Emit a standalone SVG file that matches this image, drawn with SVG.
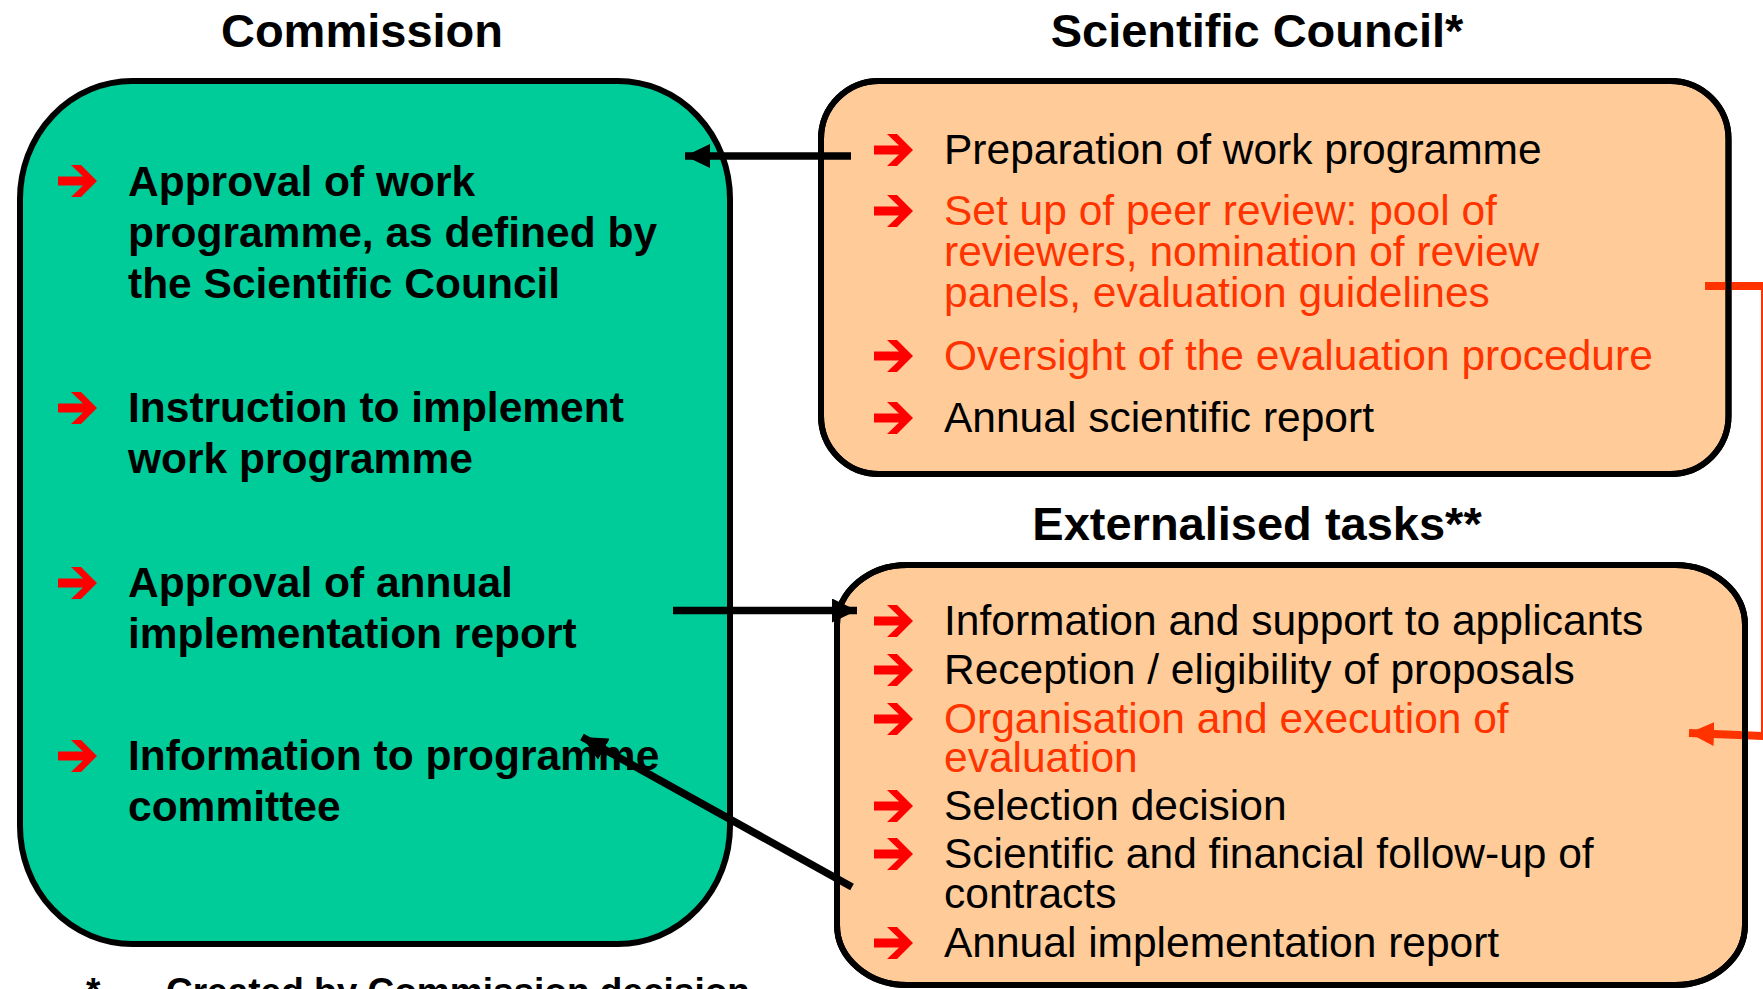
<svg xmlns="http://www.w3.org/2000/svg" xmlns:xlink="http://www.w3.org/1999/xlink" width="1763" height="989" viewBox="0 0 1763 989">
  <style>
    text { font-family: "Liberation Sans", Arial, Helvetica, sans-serif; }
    .title { font-size: 47px; font-weight: bold; fill: #000; text-anchor: middle; }
    .gtext { font-size: 42.5px; font-weight: bold; fill: #000; }
    .otext { font-size: 42.5px; fill: #000; }
    .red { fill: #FF3300; }
    .foot { font-size: 37px; font-weight: bold; fill: #000; }
    .box-green { fill: #00CC99; stroke: #000; stroke-width: 6; }
    .box-peach { fill: #FFCC99; stroke: #000; stroke-width: 6; }
    .outline { fill: none; stroke: #000; stroke-width: 6; }
    .conn { fill: none; stroke: #000; stroke-width: 7.5; }
    .conn-red { fill: none; stroke: #FF3300; stroke-width: 8; }
  </style>
  <defs>
    <path id="bullet" d="M0,-4.5 H25 L13,-16 H23 L39,0 L23,16 H13 L25,4.5 H0 Z" fill="#FF0000"/>
    <marker id="ah-black" markerUnits="userSpaceOnUse" markerWidth="26" markerHeight="24" refX="25" refY="12" orient="auto">
      <path d="M0,0 L25,12 L0,24 Z" fill="#000"/>
    </marker>
    <marker id="ah-red" markerUnits="userSpaceOnUse" markerWidth="26" markerHeight="24" refX="25" refY="12" orient="auto">
      <path d="M0,0 L25,12 L0,24 Z" fill="#FF3300"/>
    </marker>
  </defs>

  <rect x="0" y="0" width="1763" height="989" fill="#FFFFFF"/>

  <!-- Titles -->
  <text class="title" x="362" y="47">Commission</text>
  <text class="title" x="1257" y="47">Scientific Council*</text>
  <text class="title" x="1257" y="540">Externalised tasks**</text>

  <!-- Commission node -->
  <g id="commission">
    <rect class="box-green" x="20" y="81" width="710" height="863" rx="112" ry="118"/>
    <use href="#bullet" x="58" y="181"/>
    <text class="gtext" x="128" y="196">Approval of work</text>
    <text class="gtext" x="128" y="247">programme, as defined by</text>
    <text class="gtext" x="128" y="298">the Scientific Council</text>
    <use href="#bullet" x="58" y="408"/>
    <text class="gtext" x="128" y="422">Instruction to implement</text>
    <text class="gtext" x="128" y="473">work programme</text>
    <use href="#bullet" x="58" y="583"/>
    <text class="gtext" x="128" y="597">Approval of annual</text>
    <text class="gtext" x="128" y="648">implementation report</text>
    <use href="#bullet" x="58" y="756"/>
    <text class="gtext" x="128" y="770">Information to programme</text>
    <text class="gtext" x="128" y="821">committee</text>
  </g>

  <!-- Scientific Council node -->
  <g id="scientific-council">
    <rect class="box-peach" x="821" y="81" width="907.5" height="393" rx="58" ry="58"/>
    <use href="#bullet" x="874" y="150"/>
    <text class="otext" x="944" y="164">Preparation of work programme</text>
    <use href="#bullet" x="874" y="211"/>
    <text class="otext red" x="944" y="225">Set up of peer review: pool of</text>
    <text class="otext red" x="944" y="266">reviewers, nomination of review</text>
    <text class="otext red" x="944" y="307">panels, evaluation guidelines</text>
    <use href="#bullet" x="874" y="356"/>
    <text class="otext red" x="944" y="370">Oversight of the evaluation procedure</text>
    <use href="#bullet" x="874" y="418"/>
    <text class="otext" x="944" y="432">Annual scientific report</text>
  </g>

  <!-- Externalised tasks node -->
  <g id="externalised-tasks">
    <rect class="box-peach" x="837" y="565" width="908" height="420" rx="70" ry="60"/>
    <use href="#bullet" x="874" y="621"/>
    <text class="otext" x="944" y="635">Information and support to applicants</text>
    <use href="#bullet" x="874" y="670"/>
    <text class="otext" x="944" y="684">Reception / eligibility of proposals</text>
    <use href="#bullet" x="874" y="719"/>
    <text class="otext red" x="944" y="733">Organisation and execution of</text>
    <text class="otext red" x="944" y="772">evaluation</text>
    <use href="#bullet" x="874" y="806"/>
    <text class="otext" x="944" y="820">Selection decision</text>
    <use href="#bullet" x="874" y="854"/>
    <text class="otext" x="944" y="868">Scientific and financial follow-up of</text>
    <text class="otext" x="944" y="908">contracts</text>
    <use href="#bullet" x="874" y="943"/>
    <text class="otext" x="944" y="957">Annual implementation report</text>
  </g>

  <!-- Connectors -->
  <g id="connectors">
    <line class="conn" x1="851" y1="156" x2="685" y2="156" marker-end="url(#ah-black)"/>
    <line class="conn" x1="673" y1="610.5" x2="857" y2="610.5" marker-end="url(#ah-black)"/>
    <line class="conn" x1="852" y1="887" x2="582" y2="737" marker-end="url(#ah-black)"/>
    <path class="conn-red" d="M1705,286 H1765 V736 L1689,733" marker-end="url(#ah-red)"/>
  </g>

  <!-- Box borders drawn above connectors -->
  <g id="box-borders">
    <rect class="outline" x="821" y="81" width="907.5" height="393" rx="58" ry="58"/>
    <rect class="outline" x="837" y="565" width="908" height="420" rx="70" ry="60"/>
  </g>

  <!-- Footnote -->
  <g id="footnote">
    <text class="foot" x="86" y="1004">*</text>
    <text class="foot" x="166" y="1004">Created by Commission decision</text>
  </g>
</svg>
